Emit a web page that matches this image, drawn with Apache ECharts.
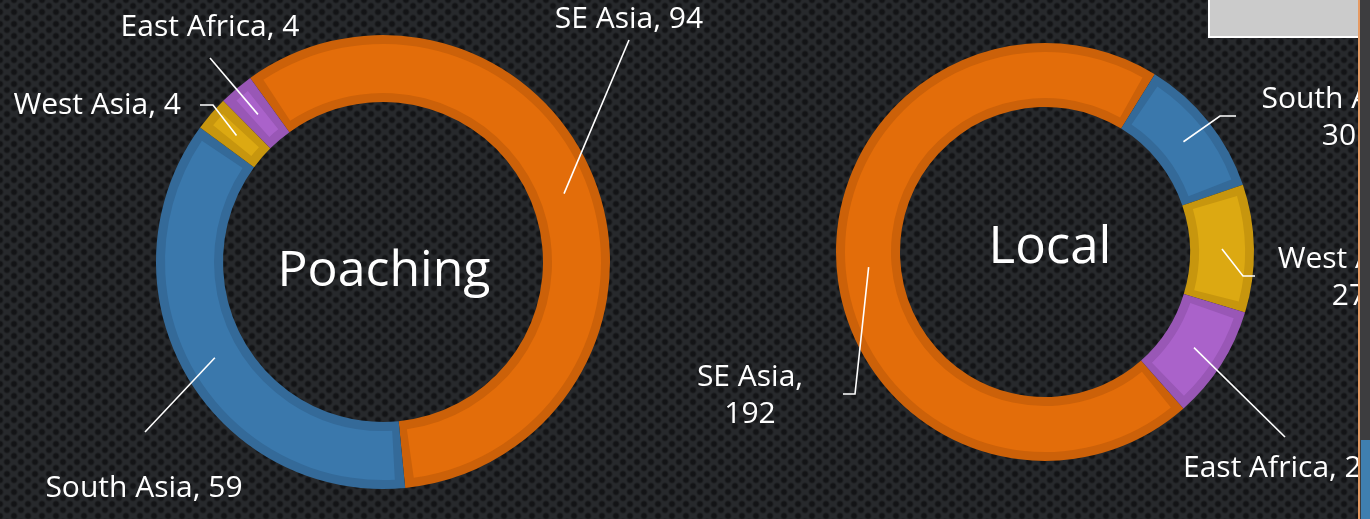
<!DOCTYPE html>
<html>
<head>
<meta charset="utf-8">
<script src="https://cdn.jsdelivr.net/npm/echarts@6/dist/echarts.min.js"></script>
<style>
html, body {
  margin: 0;
  padding: 0;
}
body {
  width: 1370px;
  height: 519px;
  overflow: hidden;
  background-color: #27292c;
  background-image:
    radial-gradient(circle at center, #121315 0, #131416 2px, rgba(19,20,22,0) 4px),
    radial-gradient(circle at center, #121315 0, #131416 2px, rgba(19,20,22,0) 4px);
  background-size: 14px 12px, 14px 12px;
  background-position: 0 0, 7px 6px;
}
#chart {
  width: 1370px;
  height: 519px;
}
</style>
</head>
<body>
<div id="chart"></div>
<script>
// regions, same order in both donuts
var regions = ['SE Asia', 'South Asia', 'West Asia', 'East Africa']
var poachingValues = [94, 59, 4, 4]
var localValues = [192, 30, 27, 24]

// label texts as shown on the slide
var poachingLabels = ['SE Asia, 94', 'South Asia, 59', 'West Asia, 4', 'East Africa, 4']
var localLabels = ['SE Asia,\n192', 'South Asia,\n30', 'West Asia,\n27', 'East Africa, 24']

var darkColors = ['#cc6109', '#346a99', '#c7960e', '#9957b6']
var lightColors = ['#e36d0a', '#3a78ac', '#dca912', '#aa62ca']
var clearColors = ['rgba(0,0,0,0)', 'rgba(0,0,0,0)', 'rgba(0,0,0,0)', 'rgba(0,0,0,0)']

var FONT = '"Open Sans", "DejaVu Sans", sans-serif'

// where each label sits (x, y, align) and the elbow of its leader line
var poachingSpots = [
  { x: 629, y: 19, align: 'center', pts: [[629, 40]] },
  { x: 144, y: 488, align: 'center', pts: [[145, 432]] },
  { x: 181, y: 105, align: 'right', pts: [[213, 105], [200, 105]] },
  { x: 210, y: 27, align: 'center', pts: [[210, 58]] }
]
var localSpots = [
  { x: 750, y: 396, align: 'center', pts: [[855, 394], [843, 394]] },
  { x: 1339, y: 118, align: 'center', pts: [[1220, 116], [1236, 116]] },
  { x: 1349, y: 278, align: 'center', pts: [[1243, 276], [1255, 276]] },
  { x: 1183, y: 468, align: 'left', pts: [[1285, 437]] }
]

function makeData(values, colors, labels) {
  return regions.map(function (name, i) {
    return {
      name: name,
      value: values[i],
      itemStyle: { color: colors[i] },
      label: labels ? { formatter: labels[i] } : undefined
    }
  })
}

function layoutFor(center, rIn, rOut, spots) {
  var mid = (rIn + rOut) / 2
  return function (params) {
    var s = spots[params.dataIndex]
    var p0 = params.labelLinePoints ? params.labelLinePoints[0] : center
    var dx = p0[0] - center[0]
    var dy = p0[1] - center[1]
    var len = Math.sqrt(dx * dx + dy * dy) || 1
    var start = [center[0] + dx / len * mid, center[1] + dy / len * mid]
    return {
      x: s.x,
      y: s.y,
      align: s.align,
      verticalAlign: 'middle',
      labelLinePoints: [start].concat(s.pts)
    }
  }
}

function donut(center, rIn, rOut, startAngle, values, labels, spots) {
  var common = {
    type: 'pie',
    center: center,
    startAngle: startAngle,
    clockwise: true,
    silent: true,
    animation: false,
    emphasis: { disabled: true }
  }
  var base = Object.assign({}, common, {
    radius: [rIn, rOut],
    z: 2,
    data: makeData(values, darkColors),
    label: { show: false },
    labelLine: { show: false }
  })
  // lighter face of each segment
  var face = Object.assign({}, common, {
    radius: [rIn + 9, rOut - 9],
    padAngle: 5,
    z: 3,
    data: makeData(values, lightColors),
    label: { show: false },
    labelLine: { show: false }
  })
  // see-through copy on top that only carries the labels and leader lines
  var labels = Object.assign({}, common, {
    radius: [rIn, rOut],
    z: 4,
    data: makeData(values, clearColors, labels),
    label: {
      show: true,
      position: 'outside',
      color: '#ffffff',
      fontFamily: FONT,
      fontSize: 30,
      lineHeight: 37,
      align: 'center',
      overflow: 'none',
      width: 400
    },
    labelLine: {
      show: true,
      length: 10,
      length2: 10,
      lineStyle: { color: '#ffffff', width: 1.6 }
    },
    labelLayout: layoutFor(center, rIn, rOut, spots)
  })
  return [base, face, labels]
}

var chart = echarts.init(document.getElementById('chart'), null, { renderer: 'canvas' })

var series = []
  .concat(donut([383, 262], 160, 227, 125.8, poachingValues, poachingLabels, poachingSpots))
  .concat(donut([1045, 252], 145, 209, -48.5, localValues, localLabels, localSpots))

var option = {
  backgroundColor: 'transparent',
  animation: false,
  series: series,
  graphic: [
    {
      type: 'text', x: 384, y: 272, z: 10,
      style: { text: 'Poaching', fill: '#ffffff', font: '50px ' + FONT, align: 'center', verticalAlign: 'middle' }
    },
    {
      type: 'text', x: 1050, y: 248, z: 10,
      style: { text: 'Local', fill: '#ffffff', font: '51px ' + FONT, align: 'center', verticalAlign: 'middle' }
    },
    // bits of the surrounding window that cover the right edge
    {
      type: 'rect', z: 100, shape: { x: 1209, y: -4, width: 150, height: 41 },
      style: { fill: '#cbcbcb', stroke: '#ffffff', lineWidth: 2 }
    },
    {
      type: 'rect', z: 100, shape: { x: 1358, y: 0, width: 12, height: 519 },
      style: { fill: '#3d3d3f' }
    },
    {
      type: 'rect', z: 101, shape: { x: 1358, y: 0, width: 2, height: 519 },
      style: { fill: '#e89a62' }
    },
    {
      type: 'rect', z: 101, shape: { x: 1361, y: 440, width: 9, height: 79 },
      style: { fill: '#3f7fb0' }
    }
  ]
}

chart.setOption(option)
</script>
</body>
</html>
